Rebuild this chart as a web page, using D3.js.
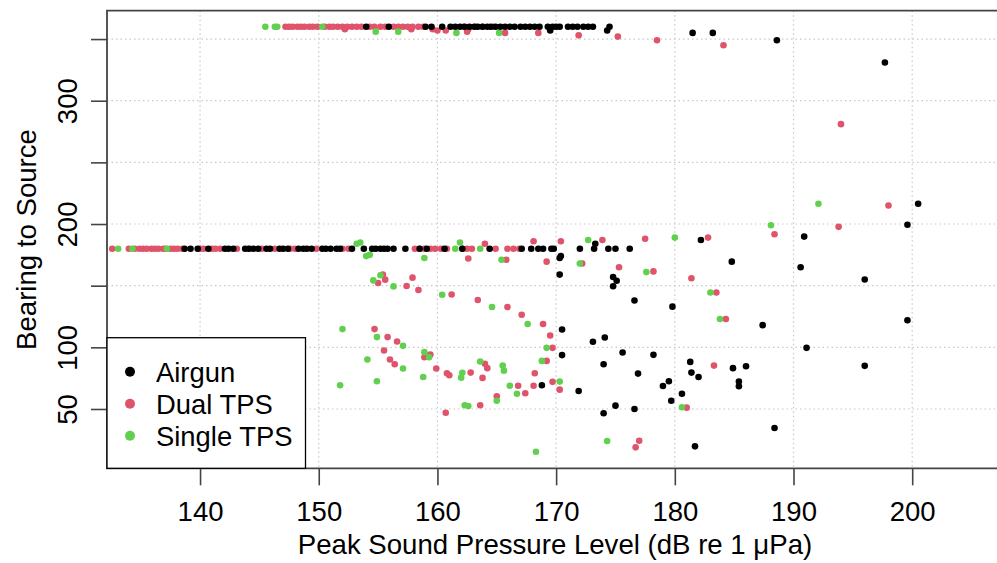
<!DOCTYPE html>
<html>
<head>
<meta charset="utf-8">
<script src="https://cdn.jsdelivr.net/npm/d3@7"></script>
<style>
  html, body { margin: 0; padding: 0; background: #fff; }
  svg text { font-family: "Liberation Sans", Arial, sans-serif; fill: #000; }
</style>
</head>
<body>
<svg id="chart" width="997" height="563"></svg>
<script>
// ── Data (peak SPL in dB re 1 µPa, bearing to source in degrees) ─────────────
const airgun = [
  [154.0,360],[155.9,360],[159.0,360],[159.5,360],[160.4,360],[161.1,360],[161.5,360],[161.9,360],
  [162.3,360],[162.7,360],[163.1,360],[163.4,360],[163.8,360],[164.2,360],[164.5,360],[164.9,360],
  [165.3,360],[165.7,360],[166.1,360],[166.5,360],[167.0,360],[167.4,360],[167.8,360],[168.2,360],
  [168.6,360],[169.3,360],[169.5,357],[169.7,360],[170.0,360],[170.3,360],[171.0,360],[171.4,360],
  [171.8,360],[172.3,360],[172.7,360],[173.1,360],[174.3,357],[174.5,360],
  [181.5,355],[183.2,355],[188.6,349],[197.7,331],
  [138.7,180],[139.2,180],[139.8,180],[140.7,180],[142.1,180],[142.4,180],[142.8,180],[143.8,180],
  [144.1,180],[144.5,180],[144.9,180],[145.6,180],[145.9,180],[146.7,180],[147.0,180],[147.4,180],
  [148.3,180],[148.7,180],[149.0,180],[149.4,180],[150.3,180],[150.6,180],[151.0,180],[151.5,180],
  [151.8,180],[152.8,180],[153.8,180],[154.5,180],[154.8,180],[155.2,180],[155.5,180],[155.8,180],
  [156.3,180],[157.3,180],[158.5,180],[159.1,180],[160.6,180],[162.1,180],[164.4,180],[167.1,180],
  [167.9,180],[168.5,180],[168.9,180],[169.6,180],[169.8,180],[172.0,180],[173.2,180],[173.3,184],
  [174.4,180],[175.0,180],[176.2,180],[182.2,187],
  [170.4,174],[170.3,172.5],[170.3,159],[174.8,157],[175.1,154],[174.8,149.5],[176.6,138],[179.8,133],
  [187.4,118],[184.8,169.5],[190.6,165],[196.0,155],[199.6,122],[191.1,99.6],[196.0,85],[200.5,216.4],
  [199.6,199.4],[190.9,189.8],[170.5,114.5],[173.1,104.5],[170.5,93.7],[168.8,69.3],[171.9,64.6],
  [174.1,108],[175.6,95.8],[178.2,93.9],[174.0,86.3],[181.3,88.2],[184.9,83.1],[186.0,84.7],
  [181.4,79.5],[182.0,76.0],[176.9,78.7],[179.0,68.7],[179.5,72.5],[185.4,72.2],[185.4,68.5],
  [180.6,62.4],[179.7,56.7],[175.0,52.7],[176.6,50.0],[174.0,46.5],[188.4,34.6],[181.7,19.7]
];

const dualTPS = [
  [147.2,360],[147.5,360],[147.8,360],[148.2,360],[148.5,360],[148.8,360],[149.2,360],[149.5,360],
  [149.9,360],[150.5,360],[150.9,360],[151.2,360],[151.6,360],[152.0,360],[152.2,358],[152.4,360],
  [152.8,360],[153.2,360],[153.6,360],[154.3,360],[154.7,360],[155.2,360],[155.6,360],[156.3,360],
  [156.7,360],[157.1,360],[157.5,360],[157.8,358],[157.9,360],[158.4,360],[158.8,360],[159.6,358],
  [160.0,357],[160.7,357],[162.2,360],[162.5,356],[162.6,358],[163.2,360],[163.8,360],[164.7,360],
  [165.7,355],[168.5,355],[171.9,353],[175.2,352],[178.5,349],[184.1,345],[194.0,281],
  [132.6,180],[134.0,180],[134.5,180],[134.9,180],[135.2,180],[135.5,180],[135.9,180],[136.2,180],
  [136.5,180],[136.9,180],[137.1,180],[137.5,180],[137.8,180],[138.1,180],[138.5,180],[140.0,180],
  [140.3,180],[141.0,180],[141.3,180],[141.7,180],[143.1,180],[144.2,180],[145.2,180],[146.3,180],
  [147.6,180],[148.0,180],[149.8,180],[152.0,180],[152.5,180],[158.1,180],[158.5,180],[158.9,180],
  [159.4,180],[159.8,180],[160.3,180],[160.8,180],[162.1,180],[162.5,180],[162.9,180],[164.0,184],
  [164.9,180],[165.9,180],[166.4,180],[166.9,180],[168.1,186],[170.4,186],[173.9,187],[177.5,188],
  [182.8,189],
  [162.6,172],[165.8,171],[169.2,169.5],[172.2,168],[175.3,165],[178.2,161.6],[181.4,156],
  [183.5,144.5],[184.3,123],[198.0,215],[193.8,197.7],[188.4,191.7],[155.4,159],[155.6,154.9],
  [155.0,152.2],[157.9,156.5],[157.4,149.8],[158.4,146.5],[161.2,142.9],[163.4,138.4],[165.9,132.7],
  [167.1,126.4],[168.9,118.9],[169.5,109.6],[154.7,114.8],[155.8,108.3],[156.6,104.7],[155.5,97.4],
  [158.9,92.0],[159.4,94.1],[156.0,90.1],[156.4,86.3],[159.9,82.8],[160.8,79.0],[161.0,77.4],
  [162.8,79.5],[164.0,86.6],[164.2,83.1],[163.8,75.2],[168.2,79.0],[169.7,99.6],[169.2,89.0],
  [166.8,68.9],[168.1,68.9],[169.7,72.0],[170.3,65.7],[167.4,62.8],[165.0,60.3],[163.6,53.0],
  [160.7,47.0],[183.3,85.2],[181.0,51.1],[177.0,24.2],[176.7,18.9]
];

const singleTPS = [
  [145.5,360],[146.3,360],[146.5,360],[150.3,360],[154.8,356],[156.7,356],[161.6,355],[165.2,355],
  [133.1,180],[134.3,180],[137.2,180],[161.5,180],[163.6,180],
  [153.2,184],[153.5,185],[161.9,185],[172.7,187],[180.0,189],[154.0,174],[154.3,175],[158.9,172.5],
  [165.4,171],[172.0,168],[177.6,161],[183.0,144.5],[183.8,123],[192.1,216.4],[188.1,199],
  [154.6,154.3],[155.2,158.4],[156.3,149.4],[160.4,142.7],[164.6,132.7],[167.6,118.9],[152.0,114.8],
  [154.9,108.3],[157.1,101.2],[158.9,96.1],[159.3,92.0],[154.1,90.1],[157.1,82.8],[154.9,72.5],
  [151.8,69.3],[158.8,76.0],[162.1,79.3],[162.0,75.4],[163.6,88.5],[165.5,85.2],[165.6,81.1],
  [169.2,99.6],[168.8,89.0],[166.1,68.9],[170.3,72.2],[166.7,62.4],[165.0,56.7],[162.3,53.0],
  [162.6,52.4],[168.3,15.3],[180.6,51.4],[174.3,24.0]
];

const groups      = ['Airgun', 'Dual TPS', 'Single TPS'];
const groupColors = ['#000000', '#DF536B', '#61D04F'];
const xTicks      = [140, 150, 160, 170, 180, 190, 200];
const yTicks      = [50, 100, 150, 200, 250, 300, 350];
const yLabelled   = [50, 100, 200, 300];

// ── Layout ──────────────────────────────────────────────────────────────────
const svg = d3.select('#chart');
const plot = { left: 107, right: 1010, top: 10.7, bottom: 468.3 };

const x = d3.scaleLinear().domain([132.16, 208.24]).range([plot.left, plot.right]);
const y = d3.scaleLinear().domain([1.9, 373]).range([plot.bottom, plot.top]);

const AXIS_COL = '#444';

// ── Grid ────────────────────────────────────────────────────────────────────
const grid = svg.append('g')
  .attr('stroke', '#c8c8c8')
  .attr('stroke-width', 1.2)
  .attr('stroke-dasharray', '1.5,3');

grid.selectAll('line.gx').data(xTicks).join('line')
  .attr('x1', d => x(d)).attr('x2', d => x(d))
  .attr('y1', plot.top).attr('y2', plot.bottom);

grid.selectAll('line.gy').data(yTicks).join('line')
  .attr('x1', plot.left).attr('x2', plot.right)
  .attr('y1', d => y(d)).attr('y2', d => y(d));

// ── Points ──────────────────────────────────────────────────────────────────
const series = [
  { name: 'Dual TPS',   data: dualTPS },
  { name: 'Single TPS', data: singleTPS },
  { name: 'Airgun',     data: airgun },
];

series.forEach(s => {
  const col = groupColors[groups.indexOf(s.name)];
  svg.append('g')
    .selectAll('circle')
    .data(s.data)
    .join('circle')
      .attr('cx', d => x(d[0]))
      .attr('cy', d => y(d[1]))
      .attr('r', 3.3)
      .attr('fill', col);
});

// ── Axes ────────────────────────────────────────────────────────────────────
const xAxis = svg.append('g')
  .attr('transform', `translate(0,${plot.bottom})`)
  .call(d3.axisBottom(x).tickValues(xTicks).tickSize(17).tickFormat(d3.format('d')));

const yAxis = svg.append('g')
  .attr('transform', `translate(${plot.left},0)`)
  .call(d3.axisLeft(y).tickValues(yTicks).tickSize(16)
    .tickFormat(d => yLabelled.includes(d) ? String(d) : ''));

[xAxis, yAxis].forEach(ax => {
  ax.select('.domain').remove();
  ax.selectAll('.tick line').attr('stroke', AXIS_COL).attr('stroke-width', 1.6);
  ax.selectAll('.tick text')
    .attr('fill', '#000')
    .attr('font-size', '27.5px')
    .attr('font-family', '"Liberation Sans", Arial, sans-serif');
});

xAxis.selectAll('.tick text').attr('y', 52.7).attr('dy', null);
yAxis.selectAll('.tick text')
  .attr('x', null).attr('dy', null)
  .attr('text-anchor', 'middle')
  .attr('transform', 'translate(-29.7,0) rotate(-90)');

// Plot frame (right side lies outside the picture)
svg.append('path')
  .attr('d', `M${plot.right},${plot.top}H${plot.left}V${plot.bottom}H${plot.right}`)
  .attr('fill', 'none')
  .attr('stroke', AXIS_COL)
  .attr('stroke-width', 1.8);

// ── Axis titles ─────────────────────────────────────────────────────────────
svg.append('text')
  .attr('x', 555).attr('y', 554)
  .attr('text-anchor', 'middle')
  .attr('font-size', '27.6px')
  .text('Peak Sound Pressure Level (dB re 1 μPa)');

svg.append('text')
  .attr('transform', `translate(36,${(plot.top + plot.bottom) / 2}) rotate(-90)`)
  .attr('text-anchor', 'middle')
  .attr('font-size', '27.6px')
  .text('Bearing to Source');

// ── Legend ──────────────────────────────────────────────────────────────────
const legend = svg.append('g');
legend.append('rect')
  .attr('x', plot.left).attr('y', 337.7)
  .attr('width', 305.5 - plot.left).attr('height', plot.bottom - 337.7)
  .attr('fill', '#fff')
  .attr('stroke', '#000')
  .attr('stroke-width', 1.3);

const rows = legend.selectAll('g.row').data(groups).join('g')
  .attr('transform', (d, i) => `translate(0,${371.7 + i * 32})`);
rows.append('circle')
  .attr('cx', 130).attr('cy', 0).attr('r', 5)
  .attr('fill', (d, i) => groupColors[i]);
rows.append('text')
  .attr('x', 156).attr('y', 10)
  .attr('font-size', '27.4px')
  .text(d => d);
</script>
</body>
</html>
